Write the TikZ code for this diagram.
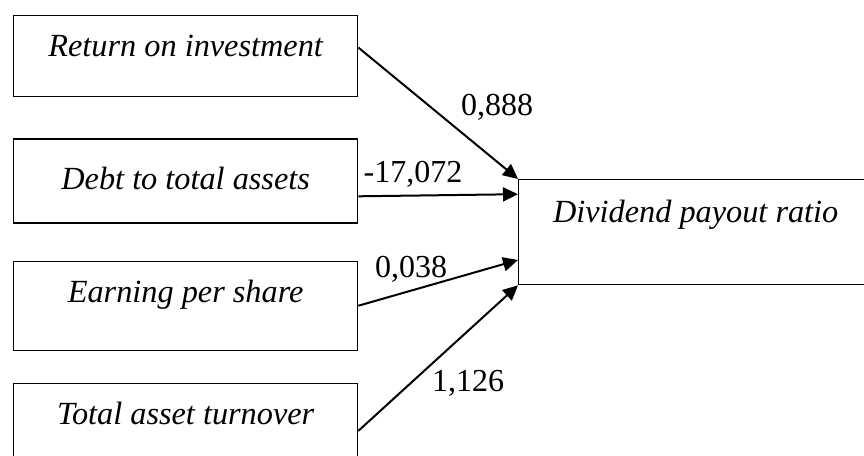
\documentclass[tikz,border=0pt]{standalone}
\usepackage{fontspec}
\setmainfont{Liberation Serif}
\usetikzlibrary{positioning,arrows.meta,calc}

\begin{document}
\begin{tikzpicture}[x=1pt, y=-1pt,
    var/.style = {draw, line width=1.3pt, inner xsep=0pt, inner ysep=0pt, minimum width=344pt, font=\fontsize{32.3pt}{38pt}\selectfont\itshape},
    coef/.style = {font=\fontsize{32pt}{38pt}\selectfont, inner sep=0pt, anchor=base},
    link/.style = {line width=2pt, -{Triangle[length=15pt,width=14pt]}}]
    \clip (0,0) rectangle (864,455);

    \node[var, text height=41pt, text depth=40pt, anchor=north west] (roi) at (13,15) {Return on investment};
    \node[var, text height=51pt, text depth=33pt, below=41pt of roi.south west, anchor=north west] (dta) {Debt to total assets};
    \node[var, text height=41pt, text depth=48pt, below=37pt of dta.south west, anchor=north west] (eps) {Earning per share};
    \node[var, text height=41pt, text depth=45pt, below=32pt of eps.south west, anchor=north west] (tat) {Total asset turnover};
    \node[var, minimum width=354pt, text height=43pt, text depth=62pt, anchor=north west] (dpr) at (518,179) {Dividend payout ratio};

    \draw[link] ($(roi.north east)!0.395!(roi.south east)$) -- (dpr.north west);
    \draw[link] ($(dta.north east)!0.68!(dta.south east)$) -- ($(dpr.north west)!0.143!(dpr.south west)$);
    \draw[link] (eps.east) -- ($(dpr.north west)!0.762!(dpr.south west)$);
    \draw[link] ($(tat.north east)+(0,48)$) -- (dpr.south west);

    \node[coef] (w1) at (497,115) {0,888};
    \node[coef] (w2) at (413,182) {-17,072};
    \node[coef] (w3) at (411,277) {0,038};
    \node[coef] (w4) at (468,391) {1,126};
\end{tikzpicture}
\end{document}
